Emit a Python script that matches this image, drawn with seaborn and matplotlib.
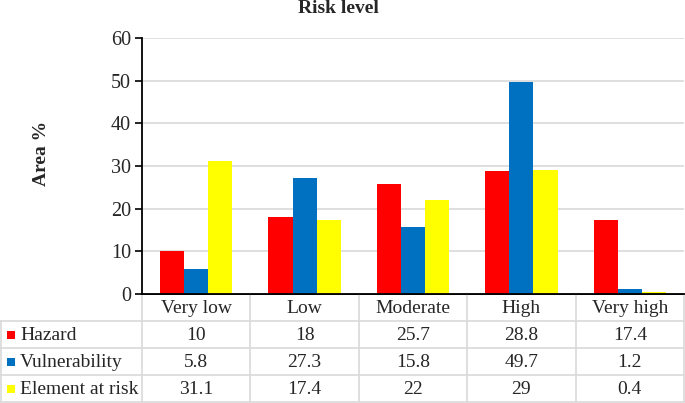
import matplotlib
matplotlib.use("Agg")
import matplotlib.pyplot as plt
import pandas as pd
import seaborn as sns

# Data
levels = ["Very low", "Low", "Moderate", "High", "Very high"]
series_names = ["Hazard", "Vulnerability", "Element at risk"]
hazard = [10, 18, 25.7, 28.8, 17.4]
vulnerability = [5.8, 27.3, 15.8, 49.7, 1.2]
element_at_risk = [31.1, 17.4, 22, 29, 0.4]
y_ticks = [0, 10, 20, 30, 40, 50, 60]

colors = ["#FF0000", "#0070C0", "#FFFF00"]
grid_col = "#D9D9D9"
W, H = 685, 403
FS = 14

sns.set_theme(style="white")
plt.rcParams["font.family"] = ["Liberation Serif", "DejaVu Serif"]

values = [hazard, vulnerability, element_at_risk]
df = pd.DataFrame({
    "level": levels * 3,
    "series": [s for s in series_names for _ in levels],
    "area": [v for vals in values for v in vals],
})

fig = plt.figure(figsize=(W / 100, H / 100), dpi=100)
ax = fig.add_axes([142 / W, 1 - 294 / H, 542 / W, 256 / H])
sns.barplot(data=df, x="level", y="area", hue="series", order=levels,
            hue_order=series_names, palette=colors, width=0.667,
            saturation=1, linewidth=0, legend=False, ax=ax)

ax.set_xlim(-0.5, len(levels) - 0.5)
ax.set_ylim(0, 60)
ax.set_yticks(y_ticks)
ax.set_yticklabels([str(t) for t in y_ticks], fontsize=FS + 0.5, family="Liberation Serif")
ax.set_xticks([])
ax.set_xlabel("")
ax.set_ylabel("")
ax.yaxis.grid(True, color=grid_col, linewidth=1.2)
ax.set_axisbelow(True)
ax.tick_params(axis="y", length=5, width=1.2, color="black", direction="out", pad=3, left=True)
for s in ["top", "right"]:
    ax.spines[s].set_visible(False)
for s in ["left", "bottom"]:
    ax.spines[s].set_color("black")
    ax.spines[s].set_linewidth(1.3)

# Titles
fig.text(338 / W, 1 - 13 / H, "Risk level", ha="center", va="baseline",
         fontsize=14, fontweight="bold", family="Liberation Serif")
fig.text(41 / W, 1 - 153 / H, "Area %", ha="center", va="center",
         rotation=90, fontsize=14, fontweight="bold", family="Liberation Serif")

# Data table below the plot, drawn on an overlay in pixel coordinates
tab = fig.add_axes([0, 0, 1, 1], zorder=-1)
tab.set_xlim(0, W)
tab.set_ylim(H, 0)
tab.axis("off")
fig.canvas.draw()
to_px = tab.transData.inverted()
edges = [to_px.transform(ax.transData.transform((i - 0.5, 0)))[0]
         for i in range(len(levels) + 1)]
top = to_px.transform(ax.transData.transform((0, 0)))[1]
row_h = 27
rows_y = [top + k * row_h for k in range(len(series_names) + 2)]

# horizontal rules
tab.plot([edges[0], edges[-1]], [rows_y[0]] * 2, color="black", lw=1.3)
for y in rows_y[1:]:
    tab.plot([0, edges[-1]], [y, y], color=grid_col, lw=1.2)
# vertical rules
for x in edges:
    tab.plot([x, x], [rows_y[0], rows_y[-1]], color=grid_col, lw=1.2)
tab.plot([0.6, 0.6], [rows_y[1], rows_y[-1]], color=grid_col, lw=1.2)

# header
for i, lab in enumerate(levels):
    tab.text((edges[i] + edges[i + 1]) / 2, (rows_y[0] + rows_y[1]) / 2 + 1, lab,
             ha="center", va="center", fontsize=FS, family="Liberation Serif")
# rows
for r, (name, vals, c) in enumerate(zip(series_names, values, colors)):
    yc = (rows_y[r + 1] + rows_y[r + 2]) / 2 + 1
    tab.add_patch(plt.Rectangle((7, yc - 4.5), 8, 8, color=c, lw=0))
    tab.text(20, yc, name, ha="left", va="center", fontsize=FS, family="Liberation Serif")
    for i, v in enumerate(vals):
        tab.text((edges[i] + edges[i + 1]) / 2, yc, f"{v:g}",
                 ha="center", va="center", fontsize=FS, family="Liberation Serif")

fig.savefig("out.png", dpi=100)
